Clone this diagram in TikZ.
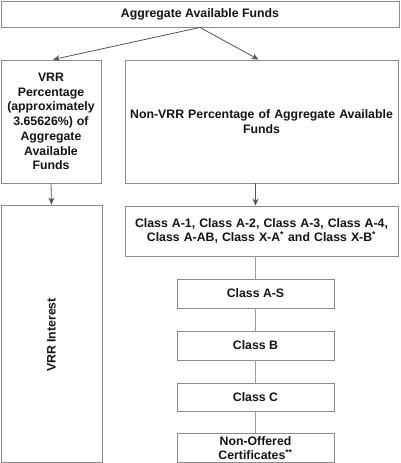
\documentclass[tikz,border=0pt]{standalone}
\usepackage{fontspec}
\setmainfont{Liberation Sans}
\usetikzlibrary{arrows.meta}
\definecolor{boxline}{HTML}{8C8C8C}
\definecolor{arrline}{HTML}{555555}
\definecolor{linkline}{HTML}{9A9A9A}
\definecolor{txt}{HTML}{141414}
\begin{document}
\begin{tikzpicture}[x=1pt,y=-1pt,
  box/.style={draw=boxline, line width=0.9pt, fill=white, inner sep=0pt, align=center,
    text=txt, font=\fontsize{12.3}{14.7}\selectfont\bfseries},
  arr/.style={draw=arrline, line width=0.8pt, -{Stealth[length=7pt,width=6pt]}},
  link/.style={draw=linkline, line width=0.8pt}]
\useasboundingbox (0,0) rectangle (400,463);
\node[box, minimum width=398pt, minimum height=26pt] (top) at (200,14) {Aggregate Available Funds};
\node[box, minimum width=100pt, minimum height=123pt, text width=98pt] (vrr) at (51,121.5)
  {VRR\\Percentage\\(approximately\\3.65626\%) of\\Aggregate\\Available\\Funds};
\node[box, minimum width=273pt, minimum height=123pt, text width=270pt] (nonvrr) at (261.5,121.5)
  {Non-VRR Percentage of Aggregate Available\\Funds};
\node[box, minimum width=101pt, minimum height=257pt] (vrrint) at (51.5,333.5) {};
\node[text=txt, font=\fontsize{12.3}{14.7}\selectfont\bfseries, rotate=90, inner sep=0pt] (vrrintlabel) at (51.5,335) {VRR Interest};
\node[box, minimum width=273pt, minimum height=50pt, text width=270pt] (a1) at (261.5,231)
  {Class A-1, Class A-2, Class A-3, Class A-4,\\Class A-AB, Class X-A\textsuperscript{*} and Class X-B\textsuperscript{*}};
\node[box, minimum width=157pt, minimum height=29pt] (as) at (255.5,293.5) {Class A-S};
\node[box, minimum width=157pt, minimum height=29pt] (b) at (255.5,345.5) {Class B};
\node[box, minimum width=157pt, minimum height=28pt] (c) at (255.5,397) {Class C};
\node[box, minimum width=157pt, minimum height=29pt, text width=155pt] (no) at (255.5,448)
  {Non-Offered\\Certificates\textsuperscript{**}};
\draw[arr] (top.south) -- ([xshift=2pt]vrr.north);
\draw[arr] (top.south) -- ([xshift=-3pt]nonvrr.north);
\draw[arr] (vrr.south) -- (vrrint.north);
\draw[arr] (nonvrr.south -| as.north) -- (a1.north -| as.north);
\draw[link] (a1.south -| as.north) -- (as.north);
\draw[link] (as.south) -- (b.north);
\draw[link] (b.south) -- (c.north);
\draw[link] (c.south) -- (no.north);
\end{tikzpicture}
\end{document}
